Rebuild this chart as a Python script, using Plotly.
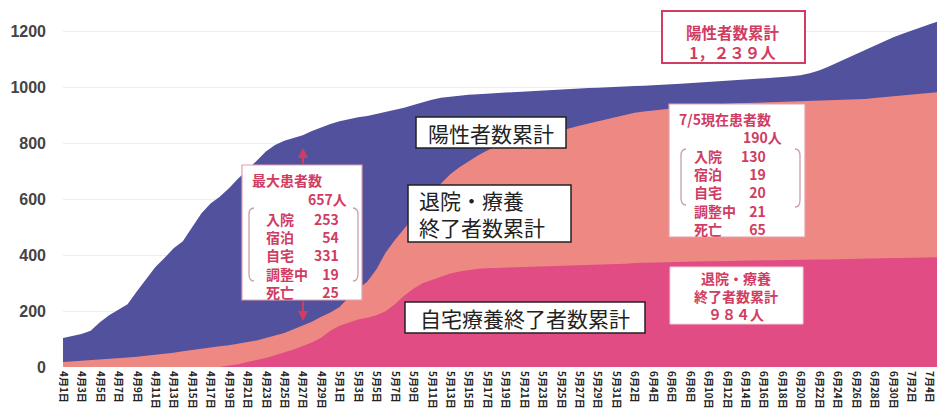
import plotly.graph_objects as go

# ---------------- data ----------------
months = [(4, 30), (5, 31), (6, 30), (7, 5)]
dates = [f"{m}月{d}日" for m, n in months for d in range(1, n + 1)]  # 4/1 .. 7/5
tick_labels = dates[::2]

positive_cum = [  # 陽性者数累計
    104, 110, 118, 130, 160, 185, 205, 225, 270, 315,
    357, 390, 425, 450, 500, 550, 585, 610, 640, 675,
    705, 740, 772, 795, 810, 820, 830, 845, 858, 870,
    880, 888, 894, 899, 906, 913, 920, 928, 938, 948,
    957, 964, 968, 972, 975, 977, 979, 981, 982, 984,
    986, 988, 990, 992, 994, 996, 998, 999, 1000, 1002,
    1004, 1005, 1006, 1007, 1008, 1010, 1012, 1014, 1016, 1018,
    1020, 1022, 1025, 1027, 1029, 1031, 1033, 1035, 1038, 1041,
    1045, 1052, 1062, 1075, 1090, 1103, 1118, 1133, 1148, 1163,
    1180, 1192, 1203, 1215, 1227, 1239,
]
recovered_cum = [  # 退院・療養終了者数累計
    18, 20, 22, 24, 26, 28, 31, 34, 37, 40,
    43, 47, 51, 56, 61, 66, 70, 74, 78, 83,
    88, 95, 104, 112, 122, 135, 148, 162, 180, 195,
    215, 250, 280, 305, 350, 410, 455, 495, 535, 571,
    615, 657, 690, 715, 737, 757, 775, 790, 800, 808,
    815, 821, 830, 838, 848, 857, 864, 872, 880, 888,
    895, 903, 910, 915, 919, 922, 925, 929, 932, 935,
    938, 940, 943, 944, 945, 946, 947, 948, 949, 950,
    951, 953, 954, 955, 956, 957, 958, 960, 963, 966,
    970, 973, 976, 979, 982, 984,
]
home_cum = [  # 自宅療養終了者数累計
    0, 0, 0, 0, 0, 0, 0, 0, 0, 0,
    0, 0, 0, 0, 0, 0, 0, 0, 5, 10,
    18, 25, 32, 42, 52, 63, 75, 88, 105, 130,
    148, 160, 170, 176, 185, 200, 225, 255, 280, 300,
    312, 322, 335, 342, 348, 352, 354, 355, 356, 357,
    357, 358, 359, 360, 361, 362, 363, 364, 366, 367,
    368, 370, 372, 373, 375, 376, 377, 377, 378, 378,
    379, 379, 380, 380, 381, 381, 382, 382, 383, 383,
    384, 384, 385, 385, 386, 386, 387, 388, 388, 389,
    390, 390, 391, 392, 392, 393,
]
y_ticks = [0, 200, 400, 600, 800, 1000, 1200]

max_labels = ["入院", "宿泊", "自宅", "調整中", "死亡"]
max_values = ["253", "54", "331", "19", "25"]
now_labels = ["入院", "宿泊", "自宅", "調整中", "死亡"]
now_values = ["130", "19", "20", "21", "65"]

# ---------------- styles ----------------
BLUE = "#52519E"
SALMON = "#EE8882"
PINK = "#E04C83"
RED = "#D03C62"
JP = "Noto Sans CJK JP"

W, H = 937, 410
L, T, B = 63, 7, 43
PW, PH = W - L, H - T - B


def px(x):
    return (x - L) / PW


def py(y):
    return (T + PH - y) / PH


fig = go.Figure()
for vals, col in [(positive_cum, BLUE), (recovered_cum, SALMON), (home_cum, PINK)]:
    fig.add_trace(go.Scatter(x=dates, y=vals, mode="lines", fill="tozeroy",
                             line=dict(width=0, color=col), fillcolor=col,
                             hoverinfo="skip", showlegend=False))

shapes = []
annotations = []


def rect(x0, y0, x1, y1, color, width=1.5):
    shapes.append(dict(type="rect", xref="paper", yref="paper",
                       x0=px(x0), x1=px(x1), y0=py(y1), y1=py(y0),
                       fillcolor="white", line=dict(color=color, width=width)))


def text(lines, x, y, size, color, anchor="center", bold=False):
    if isinstance(lines, str):
        lines = [lines]
    if bold:
        lines = [f"<b>{t}</b>" for t in lines]
    annotations.append(dict(text="<br>".join(lines), x=px(x), y=py(y),
                            xref="paper", yref="paper",
                            xanchor=anchor, yanchor="middle", showarrow=False,
                            borderpad=0, align=anchor,
                            font=dict(family=JP, size=size, color=color)))


def bracket(x, y0, y1, side, color):
    d = 5 if side == "left" else -5
    path = (f"M {px(x + d)},{py(y0)} Q {px(x)},{py(y0)} {px(x)},{py(y0 + 7)} "
            f"L {px(x)},{py(y1 - 7)} Q {px(x)},{py(y1)} {px(x + d)},{py(y1)}")
    shapes.append(dict(type="path", xref="paper", yref="paper", path=path,
                       line=dict(color=color, width=1.3)))


# black-bordered series labels
rect(416, 117, 566, 148, "#222")
text("陽性者数累計", 491, 133, 21, "#222")
rect(408, 185, 571, 242, "#222")
text(["退院・療養", "終了者数累計"], 418, 214, 21, "#222", "left")
rect(405, 302, 645, 333, "#222")
text("自宅療養終了者数累計", 525, 318, 21, "#222")

# 最大患者数 box
rect(242, 165, 362, 300, "#E3A0AE", 1.2)
text("最大患者数", 251, 180, 14, RED, "left", True)
text("657人", 348, 199, 14, RED, "right", True)
text(max_labels, 265, 255, 14, RED, "left", True)
text(max_values, 340, 255, 14, RED, "right", True)
bracket(249, 208, 281, "left", "#C9A0A8")
bracket(358, 208, 281, "right", "#C9A0A8")
for tip, ay in [(148, 17), (321, -21)]:
    annotations.append(dict(x=px(303), y=py(tip), xref="paper", yref="paper", text="",
                            showarrow=True, ax=0, ay=ay, arrowhead=2, arrowsize=1,
                            arrowwidth=2, arrowcolor=RED))

# 陽性者数累計 total box (top right)
rect(662, 11, 805, 63, RED, 2)
text(["陽性者数累計", "1，２３９人"], 733, 41.5, 15.5, RED, "center", True)

# 7/5現在患者数 box
rect(669, 104, 805, 237, "#E3A0AE", 1.2)
text("7/5現在患者数", 678, 118.5, 14, RED, "left", True)
text("190人", 783, 137, 14, RED, "right", True)
text(now_labels, 693, 192.5, 14, RED, "left", True)
text(now_values, 767, 192.5, 14, RED, "right", True)
bracket(681, 149, 205, "left", "#C9A0A8")
bracket(800, 149, 207, "right", "#C9A0A8")

# 退院・療養終了者数累計 total box
rect(670, 267, 803, 324, "#F3D0D8", 1)
text(["退院・療養", "終了者数累計", "９８４人"], 736, 296, 14, RED, "center", True)

fig.update_layout(
    width=W, height=H,
    margin=dict(l=L, r=0, t=T, b=B),
    paper_bgcolor="white", plot_bgcolor="white",
    shapes=shapes, annotations=annotations,
    xaxis=dict(type="category", range=[0, 94.8], tickvals=tick_labels,
               ticktext=tick_labels, tickangle=90, showgrid=False, zeroline=False,
               showline=False, ticks="", ticklabelstandoff=3,
               tickfont=dict(family=JP, size=10, color="#222", weight="bold")),
    yaxis=dict(range=[0, 1289], tickvals=y_ticks, showgrid=True, gridcolor="#EEEEEE",
               zeroline=False, showline=False, ticks="", ticklabelstandoff=16,
               tickfont=dict(family="Liberation Sans", size=16, color="#444", weight="bold")),
)

fig.write_html("out.html")
